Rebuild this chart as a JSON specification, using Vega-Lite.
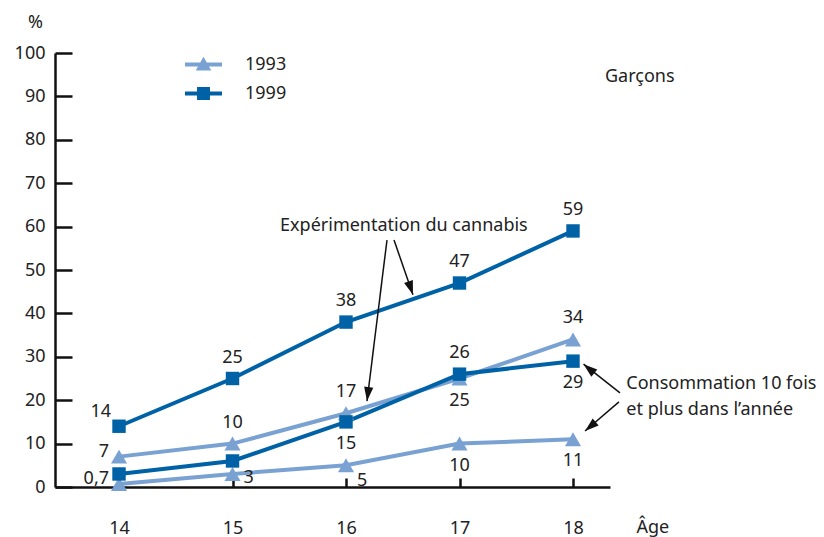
{
  "$schema": "https://vega.github.io/schema/vega-lite/v6.json",
  "autosize": "none",
  "width": 555,
  "height": 434,
  "padding": {"left": 55, "top": 53, "right": 214, "bottom": 50},
  "background": "white",
  "config": {
    "view": {"stroke": null},
    "font": "Noto Sans",
    "text": {"font": "Noto Sans", "fontSize": 18, "color": "#222"}
  },
  "datasets": {
    "series": [
      {"age": 14, "value": 7, "label": "7", "year": "1993", "indicator": "Expérimentation", "pos": "left"},
      {"age": 15, "value": 10, "label": "10", "year": "1993", "indicator": "Expérimentation", "pos": "above"},
      {"age": 16, "value": 17, "label": "17", "year": "1993", "indicator": "Expérimentation", "pos": "above"},
      {"age": 17, "value": 25, "label": "25", "year": "1993", "indicator": "Expérimentation", "pos": "below"},
      {"age": 18, "value": 34, "label": "34", "year": "1993", "indicator": "Expérimentation", "pos": "above"},
      {"age": 14, "value": 14, "label": "14", "year": "1999", "indicator": "Expérimentation", "pos": "upleft"},
      {"age": 15, "value": 25, "label": "25", "year": "1999", "indicator": "Expérimentation", "pos": "above"},
      {"age": 16, "value": 38, "label": "38", "year": "1999", "indicator": "Expérimentation", "pos": "above"},
      {"age": 17, "value": 47, "label": "47", "year": "1999", "indicator": "Expérimentation", "pos": "above"},
      {"age": 18, "value": 59, "label": "59", "year": "1999", "indicator": "Expérimentation", "pos": "above"},
      {"age": 14, "value": 0.7, "label": "0,7", "year": "1993", "indicator": "Consommation", "pos": "left"},
      {"age": 15, "value": 3, "label": "3", "year": "1993", "indicator": "Consommation", "pos": "right"},
      {"age": 16, "value": 5, "label": "5", "year": "1993", "indicator": "Consommation", "pos": "rightbelow"},
      {"age": 17, "value": 10, "label": "10", "year": "1993", "indicator": "Consommation", "pos": "below"},
      {"age": 18, "value": 11, "label": "11", "year": "1993", "indicator": "Consommation", "pos": "below"},
      {"age": 14, "value": 3, "label": "", "year": "1999", "indicator": "Consommation", "pos": "none"},
      {"age": 15, "value": 6, "label": "", "year": "1999", "indicator": "Consommation", "pos": "none"},
      {"age": 16, "value": 15, "label": "15", "year": "1999", "indicator": "Consommation", "pos": "below"},
      {"age": 17, "value": 26, "label": "26", "year": "1999", "indicator": "Consommation", "pos": "above"},
      {"age": 18, "value": 29, "label": "29", "year": "1999", "indicator": "Consommation", "pos": "below"}
    ],
    "notes": [
      {"age": 16.51, "value": 60.1, "text": "Expérimentation du cannabis", "align": "center"},
      {"age": 18.47, "value": 23.7, "text": "Consommation 10 fois", "align": "left"},
      {"age": 18.47, "value": 17.7, "text": "et plus dans l’année", "align": "left"},
      {"age": 18.282, "value": 94.5, "text": "Garçons", "align": "left"}
    ],
    "arrows": [
      {"age": 16.361, "value": 56.9, "age2": 16.185, "value2": 19.8, "angle": 187},
      {"age": 16.423, "value": 56.9, "age2": 16.59, "value2": 44.3, "angle": 161.3},
      {"age": 18.414, "value": 21.7, "age2": 18.093, "value2": 28.3, "angle": 309.8},
      {"age": 18.405, "value": 19.6, "age2": 18.106, "value2": 12.9, "angle": 229.5}
    ]
  },
  "encoding": {
    "x": {
      "field": "age", "type": "quantitative",
      "scale": {"domain": [13.436, 18.326], "nice": false, "zero": false},
      "axis": {
        "values": [14, 15, 16, 17, 18], "grid": false, "title": "Âge",
        "domainColor": "#111", "domainWidth": 2.5, "tickColor": "#111", "tickWidth": 2.5,
        "tickSize": -9, "labelPadding": 41, "labelFontSize": 18, "labelColor": "#222",
        "labelFont": "Noto Sans", "labelFlush": false,
        "titleFont": "Noto Sans", "titleFontSize": 18, "titleFontWeight": "normal", "titleColor": "#222",
        "titleX": 581, "titleY": 45, "titleAlign": "left", "titleAnchor": null, "titleBaseline": "alphabetic", "titleAngle": 0
      }
    },
    "y": {
      "field": "value", "type": "quantitative",
      "scale": {"domain": [0, 100], "nice": false},
      "axis": {
        "values": [0, 10, 20, 30, 40, 50, 60, 70, 80, 90, 100], "grid": false, "title": "%",
        "domainColor": "#111", "domainWidth": 2.5, "tickColor": "#111", "tickWidth": 2.5,
        "tickSize": -17, "labelPadding": 27, "labelFontSize": 18, "labelColor": "#222",
        "labelFont": "Noto Sans", "labelFlush": false,
        "titleFont": "Noto Sans", "titleFontSize": 18, "titleFontWeight": "normal", "titleColor": "#222",
        "titleX": -20, "titleY": -26, "titleAlign": "center", "titleAnchor": null, "titleBaseline": "alphabetic", "titleAngle": 0
      }
    }
  },
  "layer": [
    {
      "data": {"name": "series"},
      "mark": {"type": "line", "strokeWidth": 4},
      "encoding": {
        "color": {
          "field": "year", "type": "nominal",
          "scale": {"domain": ["1993", "1999"], "range": ["#79a2d3", "#0062a6"]},
          "legend": {
            "orient": "none", "legendX": 130, "legendY": -7, "title": null,
            "symbolSize": 1369, "symbolStrokeWidth": 0, "symbolOpacity": 1,
            "labelFontSize": 18, "labelColor": "#222", "labelFont": "Noto Sans", "labelOffset": 23, "rowPadding": 1,
            "encode": {"symbols": {"update": {
              "shape": {"signal": "datum.value === '1993' ? 'M-1,-0.11L1,-0.11L1,0.11L-1,0.11Z M-0.42,0.33L0,-0.42L0.42,0.33Z' : 'M-1,-0.11L1,-0.11L1,0.11L-1,0.11Z M-0.35,-0.35L0.35,-0.35L0.35,0.35L-0.35,0.35Z'"},
              "fill": {"signal": "datum.value === '1993' ? '#79a2d3' : '#0062a6'"},
              "fillOpacity": {"value": 1},
              "strokeWidth": {"value": 0},
              "opacity": {"value": 1}
            }}}
          }
        },
        "detail": {"field": "indicator"},
        "order": {"field": "age"}
      }
    },
    {
      "data": {"name": "series"},
      "mark": {"type": "point", "filled": true, "opacity": 1},
      "encoding": {
        "color": {"condition": {"test": "datum.year === '1993'", "value": "#79a2d3"}, "value": "#0062a6"},
        "shape": {"condition": {"test": "datum.year === '1993'", "value": "triangle-up"}, "value": "square"},
        "size": {"condition": {"test": "datum.year === '1993'", "value": 260}, "value": 180}
      }
    },
    {
      "data": {"name": "series"},
      "transform": [{"filter": "datum.pos === 'above'"}],
      "mark": {"type": "text", "dy": -21, "align": "center", "baseline": "middle"},
      "encoding": {"text": {"field": "label"}}
    },
    {
      "data": {"name": "series"},
      "transform": [{"filter": "datum.pos === 'below'"}],
      "mark": {"type": "text", "dy": 22, "align": "center", "baseline": "middle"},
      "encoding": {"text": {"field": "label"}}
    },
    {
      "data": {"name": "series"},
      "transform": [{"filter": "datum.pos === 'left'"}],
      "mark": {"type": "text", "dx": -10, "dy": -5, "align": "right", "baseline": "middle"},
      "encoding": {"text": {"field": "label"}}
    },
    {
      "data": {"name": "series"},
      "transform": [{"filter": "datum.pos === 'upleft'"}],
      "mark": {"type": "text", "dx": -8, "dy": -14, "align": "right", "baseline": "middle"},
      "encoding": {"text": {"field": "label"}}
    },
    {
      "data": {"name": "series"},
      "transform": [{"filter": "datum.pos === 'right'"}],
      "mark": {"type": "text", "dx": 11, "dy": 4, "align": "left", "baseline": "middle"},
      "encoding": {"text": {"field": "label"}}
    },
    {
      "data": {"name": "series"},
      "transform": [{"filter": "datum.pos === 'rightbelow'"}],
      "mark": {"type": "text", "dx": 11, "dy": 16, "align": "left", "baseline": "middle"},
      "encoding": {"text": {"field": "label"}}
    },
    {
      "data": {"name": "notes"},
      "transform": [{"filter": "datum.align === 'center'"}],
      "mark": {"type": "text", "align": "center", "baseline": "middle"},
      "encoding": {"text": {"field": "text"}}
    },
    {
      "data": {"name": "notes"},
      "transform": [{"filter": "datum.align === 'left'"}],
      "mark": {"type": "text", "align": "left", "baseline": "middle"},
      "encoding": {"text": {"field": "text"}}
    },
    {
      "data": {"name": "arrows"},
      "mark": {"type": "rule", "color": "#111", "strokeWidth": 1.5},
      "encoding": {
        "x2": {"field": "age2"},
        "y2": {"field": "value2"}
      }
    },
    {
      "data": {"name": "arrows"},
      "mark": {"type": "point", "filled": true, "opacity": 1, "color": "#111", "shape": "M0,0L-0.33,1L0.33,1Z", "size": 784},
      "encoding": {
        "x": {"field": "age2", "type": "quantitative"},
        "y": {"field": "value2", "type": "quantitative"},
        "angle": {"field": "angle", "type": "quantitative", "scale": null}
      }
    }
  ]
}
